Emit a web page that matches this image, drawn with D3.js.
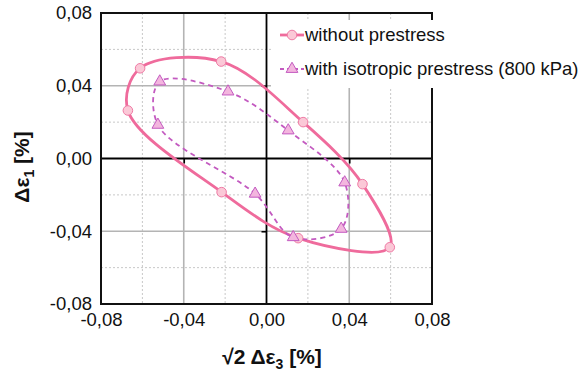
<!DOCTYPE html>
<html>
<head>
<meta charset="utf-8">
<script src="https://cdn.jsdelivr.net/npm/d3@7"></script>
<style>
  body { margin: 0; background: #fff; }
  svg { display: block; font-family: "Liberation Sans", Arial, sans-serif; }
</style>
</head>
<body>
<div id="wrapper"></div>
<script>
// values, in loop order
const noPrestressX = [-0.0611, -0.0219, 0.0177, 0.0464, 0.0596, 0.0153, -0.0217, -0.0670]
const noPrestressY = [0.0496, 0.0533, 0.0200, -0.0141, -0.0488, -0.0438, -0.0185, 0.0264]
const prestressX = [-0.0516, -0.0186, 0.0105, 0.0378, 0.0361, 0.0129, -0.0055, -0.0525]
const prestressY = [0.0423, 0.0368, 0.0154, -0.0132, -0.0387, -0.0433, -0.0194, 0.0185]
const tickValues = [-0.08, -0.04, 0, 0.04, 0.08]
const minorGrid = [-0.06, -0.02, 0.02, 0.06]
const majorGrid = [-0.04, 0.04]
const seriesNames = ["without prestress", "with isotropic prestress (800 kPa)"]

const toPoints = (xs, ys) => xs.map((x, i) => ({ x, y: ys[i] }))
const series = [
  { name: seriesNames[0], points: toPoints(noPrestressX, noPrestressY), line: "#ef6b9c", fill: "#fbc8d7", stroke: "#ef7ba5", width: 2.8, dash: null, symbol: d3.symbolCircle, size: 72 },
  { name: seriesNames[1], points: toPoints(prestressX, prestressY), line: "#c35ac0", fill: "#f3b6de", stroke: "#c35ac0", width: 1.8, dash: "5,4", symbol: d3.symbolTriangle, size: 60 },
]

let dimensions = {
  width: 581,
  height: 373,
  margin: { top: 13, right: 149, bottom: 69, left: 101 },
}
dimensions.boundedWidth = dimensions.width - dimensions.margin.left - dimensions.margin.right
dimensions.boundedHeight = dimensions.height - dimensions.margin.top - dimensions.margin.bottom

const wrapper = d3.select("#wrapper")
  .append("svg")
    .attr("width", dimensions.width)
    .attr("height", dimensions.height)

const bounds = wrapper.append("g")
    .attr("transform", `translate(${dimensions.margin.left},${dimensions.margin.top})`)

const xScale = d3.scaleLinear()
  .domain([-0.08, 0.08])
  .range([0, dimensions.boundedWidth])
const yScale = d3.scaleLinear()
  .domain([-0.08, 0.08])
  .range([dimensions.boundedHeight, 0])

const fmt = v => d3.format(".2f")(v).replace(".", ",").replace("\u2212", "-")

// grid
const grid = bounds.append("g")
grid.selectAll(".vminor").data(minorGrid).join("line")
    .attr("x1", d => xScale(d)).attr("x2", d => xScale(d))
    .attr("y1", 0).attr("y2", dimensions.boundedHeight)
    .attr("stroke", "#c8c8c8").attr("stroke-width", 1).attr("stroke-dasharray", "2,2")
grid.selectAll(".hminor").data(minorGrid).join("line")
    .attr("y1", d => yScale(d)).attr("y2", d => yScale(d))
    .attr("x1", 0).attr("x2", dimensions.boundedWidth)
    .attr("stroke", "#c8c8c8").attr("stroke-width", 1).attr("stroke-dasharray", "2,2")
grid.selectAll(".vmajor").data(majorGrid).join("line")
    .attr("x1", d => xScale(d)).attr("x2", d => xScale(d))
    .attr("y1", 0).attr("y2", dimensions.boundedHeight)
    .attr("stroke", "#b4b4b4").attr("stroke-width", 1.6)
grid.selectAll(".hmajor").data(majorGrid).join("line")
    .attr("y1", d => yScale(d)).attr("y2", d => yScale(d))
    .attr("x1", 0).attr("x2", dimensions.boundedWidth)
    .attr("stroke", "#b4b4b4").attr("stroke-width", 1.6)

// zero axes with small ticks
const zeroY = d3.axisLeft(yScale).tickValues(majorGrid).tickSize(5).tickFormat("")
bounds.append("g")
    .attr("transform", `translate(${xScale(0)},0)`)
    .call(zeroY)
    .call(g => g.select(".domain").remove())
    .call(g => g.selectAll("line").attr("stroke", "#000").attr("stroke-width", 1.6))
const zeroX = d3.axisBottom(xScale).tickValues(majorGrid).tickSize(5).tickFormat("")
bounds.append("g")
    .attr("transform", `translate(0,${yScale(0)})`)
    .call(zeroX)
    .call(g => g.select(".domain").remove())
    .call(g => g.selectAll("line").attr("stroke", "#000").attr("stroke-width", 1.6))
bounds.append("line")
    .attr("x1", xScale(0)).attr("x2", xScale(0))
    .attr("y1", 0).attr("y2", dimensions.boundedHeight)
    .attr("stroke", "#000").attr("stroke-width", 1.8)
bounds.append("line")
    .attr("y1", yScale(0)).attr("y2", yScale(0))
    .attr("x1", 0).attr("x2", dimensions.boundedWidth)
    .attr("stroke", "#000").attr("stroke-width", 1.8)

// outer axes
const xAxis = d3.axisBottom(xScale).tickValues(tickValues).tickSize(0).tickPadding(9).tickFormat(fmt)
bounds.append("g")
    .attr("transform", `translate(0,${dimensions.boundedHeight})`)
    .call(xAxis)
    .call(g => g.select(".domain").remove())
    .call(g => g.selectAll("text").attr("font-size", 18.5).attr("fill", "#111").attr("font-family", null))
const yAxis = d3.axisLeft(yScale).tickValues(tickValues).tickSize(0).tickPadding(9).tickFormat(fmt)
bounds.append("g")
    .call(yAxis)
    .call(g => g.select(".domain").remove())
    .call(g => g.selectAll("text").attr("font-size", 18.5).attr("fill", "#111").attr("font-family", null))

// loops
const lineGen = d3.line()
  .x(d => xScale(d.x))
  .y(d => yScale(d.y))
  .curve(d3.curveCatmullRomClosed.alpha(0.5))

series.forEach(s => {
  bounds.append("path")
      .attr("d", lineGen(s.points))
      .attr("fill", "none")
      .attr("stroke", s.line)
      .attr("stroke-width", s.width)
      .attr("stroke-dasharray", s.dash)
})
series.forEach(s => {
  bounds.selectAll(null).data(s.points).join("path")
      .attr("d", d3.symbol(s.symbol, s.size))
      .attr("transform", d => `translate(${xScale(d.x)},${yScale(d.y)})`)
      .attr("fill", s.fill)
      .attr("stroke", s.stroke)
      .attr("stroke-width", 1)
})

// frame
bounds.append("rect")
    .attr("width", dimensions.boundedWidth)
    .attr("height", dimensions.boundedHeight)
    .attr("fill", "none")
    .attr("stroke", "#111")
    .attr("stroke-width", 2)

// legend
const legend = wrapper.append("g")
legend.append("rect")
    .attr("x", 271).attr("y", 20)
    .attr("width", 310).attr("height", 68)
    .attr("fill", "#fff")
series.forEach((s, i) => {
  const y = 35 + i * 34
  legend.append("line")
      .attr("x1", 280).attr("x2", 304)
      .attr("y1", y).attr("y2", y)
      .attr("stroke", s.line)
      .attr("stroke-width", s.width)
      .attr("stroke-dasharray", s.dash ? "4,3" : null)
  legend.append("path")
      .attr("d", d3.symbol(s.symbol, s.size))
      .attr("transform", `translate(292,${y})`)
      .attr("fill", s.fill)
      .attr("stroke", s.stroke)
  legend.append("text")
      .attr("x", 305).attr("y", y)
      .attr("dy", "0.35em")
      .attr("font-size", 18.5)
      .attr("fill", "#111")
      .text(s.name)
})

// axis titles
const yTitle = wrapper.append("text")
    .attr("transform", `translate(29,167) rotate(-90)`)
    .attr("text-anchor", "middle")
    .attr("font-size", 21)
    .attr("font-weight", "bold")
    .attr("fill", "#111")
yTitle.append("tspan").text("\u0394\u03b5")
yTitle.append("tspan").attr("font-size", 14).attr("dy", 5).text("1")
yTitle.append("tspan").attr("dy", -5).text(" [%]")

const xTitle = wrapper.append("text")
    .attr("x", 272).attr("y", 364)
    .attr("text-anchor", "middle")
    .attr("font-size", 21)
    .attr("font-weight", "bold")
    .attr("fill", "#111")
xTitle.append("tspan").text("\u221a2 \u0394\u03b5")
xTitle.append("tspan").attr("font-size", 14).attr("dy", 5).text("3")
xTitle.append("tspan").attr("dy", -5).text(" [%]")
</script>
</body>
</html>
